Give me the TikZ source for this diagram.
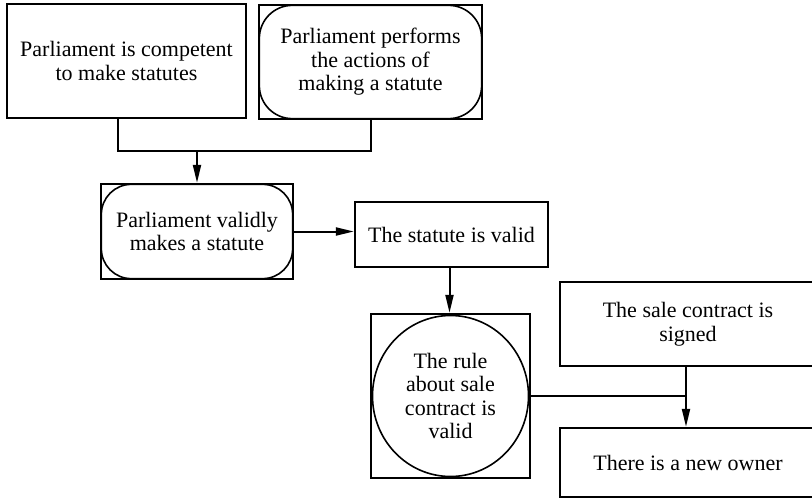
\documentclass[tikz,border=0pt]{standalone}
\usepackage{fontspec}
\setmainfont{Liberation Serif}
\usetikzlibrary{arrows.meta}
\begin{document}
\begin{tikzpicture}[x=1pt,y=-1pt,
  box/.style={draw, line width=2.3pt, align=center, inner sep=0pt,
    font=\fontsize{22}{23.5}\selectfont},
  conn/.style={line width=2pt},
  arr/.style={line width=2pt, -{Triangle[length=18pt,width=8pt]}},
  innerline/.style={line width=1.6pt}]
\useasboundingbox (0,0) rectangle (812,498);
\clip (0,0) rectangle (812,498);
% nodes
\node[box, minimum width=239pt, minimum height=114pt] (b1) at (126.5,61)
  {Parliament is competent\\to make statutes};
\node[box, minimum width=223pt, minimum height=114pt] (b2) at (370.5,62)
  {Parliament performs\\the actions of\\making a statute};
\node[box, minimum width=192pt, minimum height=95pt] (b3) at (197,231.5)
  {Parliament validly\\makes a statute};
\node[box, minimum width=193pt, minimum height=65pt] (b4) at (451.5,234.5)
  {The statute is valid};
\node[box, minimum width=159pt, minimum height=164pt] (b5) at (450.5,396)
  {The rule\\about sale\\contract is\\valid};
\node[box, minimum width=256pt, minimum height=84pt] (b6) at (688,324)
  {The sale contract is\\signed};
\node[box, minimum width=256pt, minimum height=69pt] (b7) at (688,462.5)
  {There is a new owner};
% inner shapes
\draw[innerline, rounded corners=33pt]
  ([shift={(1.5pt,-1.5pt)}]b2.north west) rectangle ([shift={(-1.5pt,1.5pt)}]b2.south east);
\draw[innerline, rounded corners=30pt]
  ([shift={(1.5pt,-1.5pt)}]b3.north west) rectangle ([shift={(-1.5pt,1.5pt)}]b3.south east);
\draw[innerline] (b5.center) ellipse [x radius=78pt, y radius=80.5pt];
% connectors
\coordinate (j1) at (197,151);
\draw[conn] ([xshift=-8.5pt]b1.south) |- (j1) -| (b2.south);
\draw[arr] (j1) -- (b3.north);
\draw[arr] (b3.east) -- (b3.east -| b4.west);
\draw[arr] ([xshift=-2pt]b4.south) -- ([xshift=-2pt]b4.south |- b5.north);
\coordinate (j2) at (686,396);
\draw[conn] (b5.east) -- (j2);
\draw[arr] ([xshift=-2pt]b6.south) -- ([xshift=-2pt]b7.north);
\end{tikzpicture}
\end{document}
